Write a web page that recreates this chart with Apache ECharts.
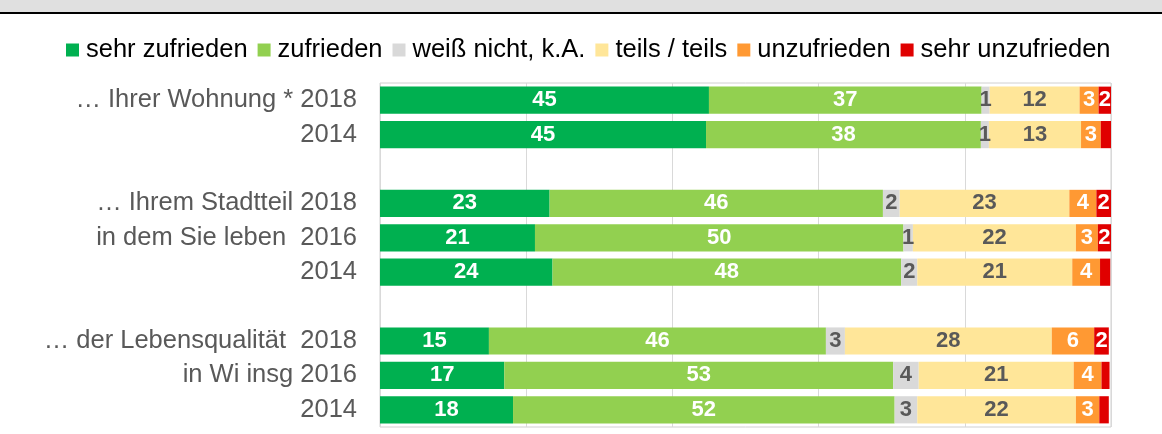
<!DOCTYPE html>
<html>
<head>
<meta charset="utf-8">
<title>Zufriedenheit</title>
<script src="https://cdn.jsdelivr.net/npm/echarts@6/dist/echarts.min.js"></script>
<style>
    html, body { margin: 0; padding: 0; background: #fff; }
    #chart { width: 1162px; height: 434px; }
</style>
</head>
<body>
<div id="chart"></div>
<script>
// y-Achse: Zeilen von oben nach unten, '' = Leerzeile zwischen den Gruppen
var rowLabels = [
    '… Ihrer Wohnung * 2018', '2014', '',
    '… Ihrem Stadtteil 2018', 'in dem Sie leben  2016', '2014', '',
    '… der Lebensqualität  2018', 'in Wi insg 2016', '2014'
];

var seriesNames = ['sehr zufrieden', 'zufrieden', 'weiß nicht, k.A.', 'teils / teils', 'unzufrieden', 'sehr unzufrieden'];

// Prozentwerte, aus dem Bild gelesen (null = Leerzeile)
var sehrZufrieden   = [45.0, 44.6, null, 23.2, 21.2, 23.6, null, 14.9, 17.0, 18.2];
var zufrieden       = [37.3, 37.6, null, 45.6, 50.4, 47.7, null, 46.1, 53.2, 52.2];
var weissNicht      = [1.1,  1.1,  null, 2.3,  1.3,  2.2,  null, 2.6,  3.5,  3.1];
var teilsTeils      = [12.3, 12.6, null, 23.2, 22.3, 21.2, null, 28.3, 21.2, 21.7];
var unzufrieden     = [2.6,  2.7,  null, 3.7,  3.0,  3.8,  null, 5.8,  3.8,  3.2];
var sehrUnzufrieden = [1.7,  1.4,  null, 2.0,  1.8,  1.4,  null, 2.0,  1.1,  1.3];

var xTicks = [0, 20, 40, 60, 80, 100];

(function () {
    var values = [sehrZufrieden, zufrieden, weissNicht, teilsTeils, unzufrieden, sehrUnzufrieden];
    var colors = ['#00b050', '#92d050', '#d9d9d9', '#ffe699', '#ff9933', '#e00000'];
    var labelColors = ['#fff', '#fff', '#595959', '#595959', '#fff', '#fff'];
    var font = "'Liberation Sans', Arial, sans-serif";

    var series = [];
    for (var i = 0; i < values.length; i++) {
        // die roten Balken unter 1,5 sind im Original ohne Zahl
        var minShown = (i == 5) ? 1.5 : 0;
        series.push({
            name: seriesNames[i],
            type: 'bar',
            stack: 'all',
            data: values[i],
            barCategoryGap: '21%',
            itemStyle: { color: colors[i] },
            emphasis: { disabled: true },
            label: {
                show: true,
                position: 'inside',
                color: labelColors[i],
                fontFamily: font,
                fontWeight: 'bold',
                fontSize: 22,
                formatter: (function (min) {
                    return function (p) {
                        if (p.value == null || p.value < min) return '';
                        return Math.round(p.value);
                    };
                })(minShown)
            }
        });
    }

    var chart = echarts.init(document.getElementById('chart'));
    chart.setOption({
        animation: false,
        color: colors,
        graphic: [
            // oberer Rand: grauer Kopf mit schwarzer Linie
            { type: 'rect', left: 0, top: 0, shape: { width: 1162, height: 12 }, style: { fill: '#e0e0e0' } },
            { type: 'rect', left: 0, top: 12, shape: { width: 1162, height: 2 }, style: { fill: '#000' } }
        ],
        legend: {
            left: 61,
            top: 32,
            icon: 'rect',
            itemWidth: 13,
            itemHeight: 13,
            itemGap: 10,
            textStyle: { fontFamily: font, fontSize: 25.5, color: '#000', padding: [0, 0, 0, 2] },
            data: seriesNames
        },
        grid: {
            left: 380,
            right: 51,
            top: 83,
            bottom: 7,
            show: true,
            borderColor: '#d0d0d0',
            borderWidth: 1
        },
        xAxis: {
            type: 'value',
            min: xTicks[0],
            max: xTicks[xTicks.length - 1],
            interval: xTicks[1] - xTicks[0],
            axisLabel: { show: false },
            axisLine: { show: false },
            axisTick: { show: false },
            splitLine: { lineStyle: { color: '#d9d9d9', width: 1 } }
        },
        yAxis: {
            type: 'category',
            inverse: true,
            data: rowLabels.map(function (l, i) { return String(i); }),
            axisLine: { show: false },
            axisTick: { show: false },
            axisLabel: {
                margin: 23,
                fontFamily: font,
                fontSize: 25.5,
                color: '#595959',
                formatter: function (v) { return rowLabels[+v]; }
            }
        },
        series: series
    });
})();
</script>
</body>
</html>
